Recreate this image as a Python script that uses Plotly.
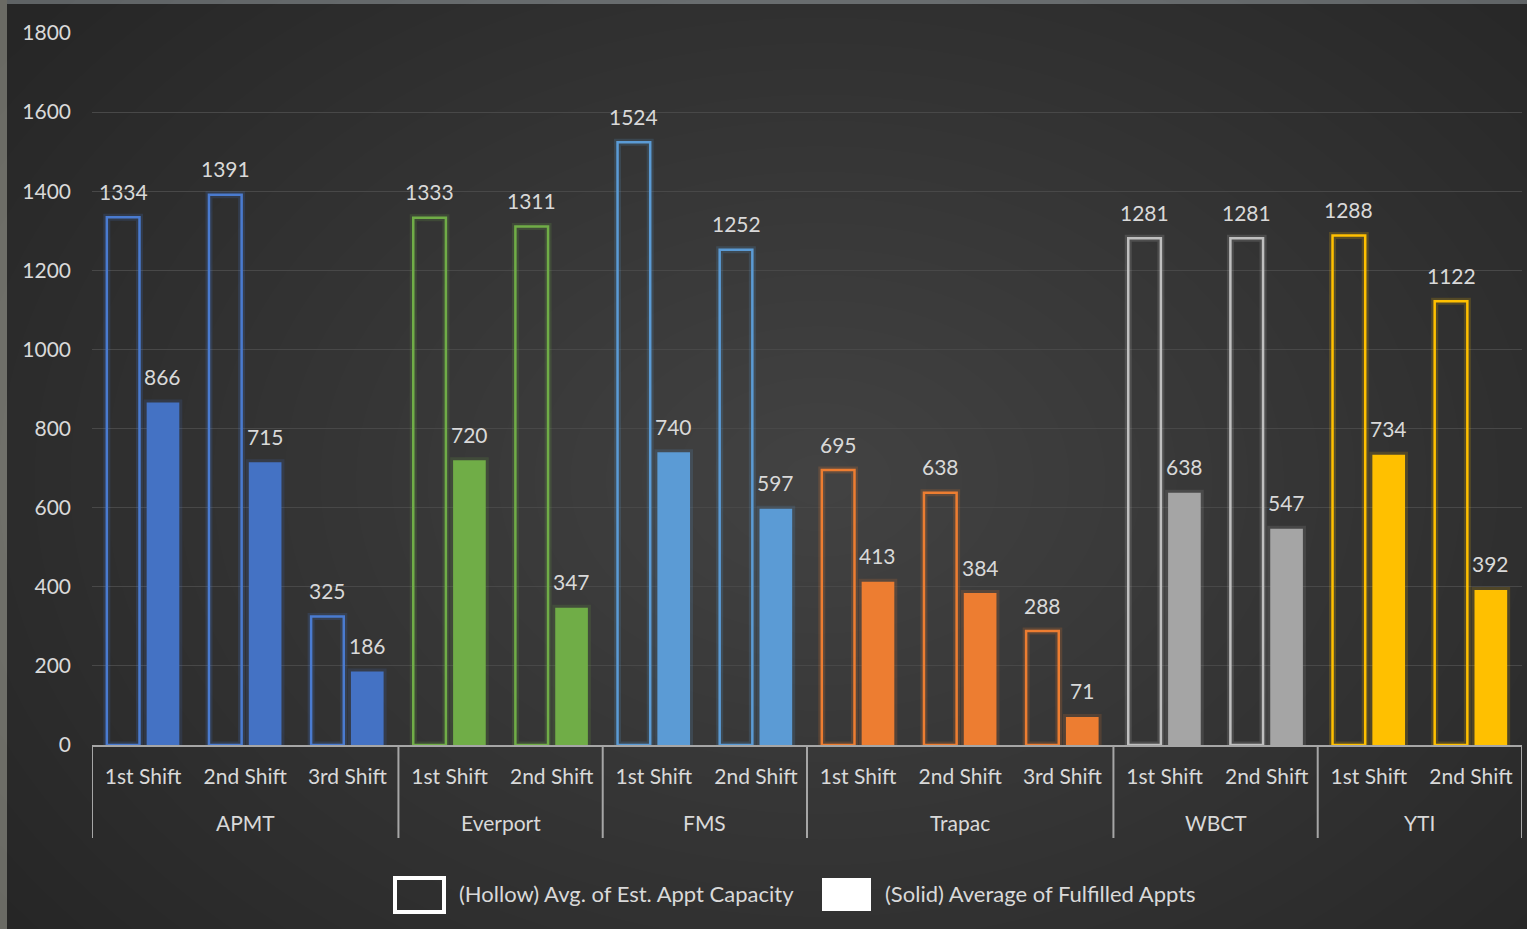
import plotly.graph_objects as go

# ---- data ----
terminals = ["APMT", "APMT", "APMT", "Everport", "Everport", "FMS", "FMS",
             "Trapac", "Trapac", "Trapac", "WBCT", "WBCT", "YTI", "YTI"]
shifts = ["1st Shift", "2nd Shift", "3rd Shift", "1st Shift", "2nd Shift",
          "1st Shift", "2nd Shift", "1st Shift", "2nd Shift", "3rd Shift",
          "1st Shift", "2nd Shift", "1st Shift", "2nd Shift"]
capacity = [1334, 1391, 325, 1333, 1311, 1524, 1252, 695, 638, 288, 1281, 1281, 1288, 1122]
fulfilled = [866, 715, 186, 720, 347, 740, 597, 413, 384, 71, 638, 547, 734, 392]
terminal_colors = {"APMT": "#4472C4", "Everport": "#70AD47", "FMS": "#5B9BD5",
                   "Trapac": "#ED7D31", "WBCT": "#A5A5A5", "YTI": "#FFC000"}
outline_colors = {"APMT": "#4A7BD0", "Everport": "#70AD47", "FMS": "#5B9BD5",
                  "Trapac": "#ED7D31", "WBCT": "#BFBFBF", "YTI": "#FFC000"}
legend_labels = ["(Hollow) Avg. of Est. Appt Capacity", "(Solid) Average of Fulfilled Appts"]

W, H = 1527, 929
L, R, T, B = 92, 5, 33, 184
PW, PH = W - L - R, H - T - B
BARGAP, GROUPGAP = 0.22, 0.18

def px(x):
    return (x - L) / PW

def py(y):
    return 1 - (y - T) / PH

def rgba(hexc, a):
    h = hexc.lstrip("#")
    return f"rgba({int(h[0:2],16)},{int(h[2:4],16)},{int(h[4:6],16)},{a})"

FONT = "Lato, 'Open Sans', sans-serif"
TXT = "#d9d9d9"

cats = [f"{t}|{s}" for t, s in zip(terminals, shifts)]

fig = go.Figure()
# soft glow behind bars
fig.add_trace(go.Bar(
    x=cats, y=capacity, offsetgroup="cap", hoverinfo="skip",
    marker=dict(color="rgba(0,0,0,0)",
                line=dict(color=[rgba(outline_colors[t], 0.18) for t in terminals], width=7)),
    showlegend=False,
))
fig.add_trace(go.Bar(
    x=cats, y=fulfilled, offsetgroup="ful", hoverinfo="skip",
    marker=dict(color="rgba(0,0,0,0)",
                line=dict(color=[rgba(terminal_colors[t], 0.16) for t in terminals], width=6)),
    showlegend=False,
))
fig.add_trace(go.Bar(
    x=cats, y=capacity, name=legend_labels[0], offsetgroup="cap",
    marker=dict(color="rgba(0,0,0,0)",
                line=dict(color=[outline_colors[t] for t in terminals], width=2.5)),
    showlegend=False,
))
fig.add_trace(go.Bar(
    x=cats, y=fulfilled, name=legend_labels[1], offsetgroup="ful",
    marker=dict(color=[terminal_colors[t] for t in terminals], line=dict(width=0)),
    showlegend=False,
))

shapes = []
# outer border and dark card
shapes.append(dict(type="rect", xref="paper", yref="paper", layer="below",
                   x0=px(0), x1=px(7), y0=py(H), y1=py(0),
                   fillcolor="#6a6a64", line=dict(width=0)))
shapes.append(dict(type="rect", xref="paper", yref="paper", layer="below",
                   x0=px(7), x1=px(W), y0=py(H), y1=py(4),
                   fillcolor="#262626", line=dict(width=0)))
# radial gradient by stacked ellipses
cx, cy = 820, 480
n = 28
for i in range(n):
    f = 1 - i / n
    rx, ry = 1000 * f, 720 * f
    shapes.append(dict(type="circle", xref="paper", yref="paper", layer="below",
                       x0=px(cx - rx), x1=px(cx + rx), y0=py(cy + ry), y1=py(cy - ry),
                       fillcolor="rgba(255,255,255,0.0068)", line=dict(width=0)))

annotations = []
# value labels above bars
slot = (1 - BARGAP) / 2
for i, (c, f) in enumerate(zip(capacity, fulfilled)):
    for xv, v in ((i - slot / 2, c), (i + slot / 2, f)):
        annotations.append(dict(xref="x", yref="y", x=xv, y=v, yshift=26,
                                xanchor="center", yanchor="middle", text=str(v),
                                showarrow=False, font=dict(color=TXT, size=21, family=FONT)))

# group dividers and group labels
groups = []
for i, t in enumerate(terminals):
    if not groups or groups[-1][0] != t:
        groups.append([t, i, i])
    else:
        groups[-1][2] = i
bounds = [g[1] - 0.5 for g in groups] + [groups[-1][2] + 0.5]
for b in bounds:
    shapes.append(dict(type="line", xref="x", yref="paper", x0=b, x1=b,
                       y0=py(745), y1=py(838), line=dict(color="#a6a6a6", width=2)))
for name, i0, i1 in groups:
    annotations.append(dict(xref="x", yref="paper", x=(i0 + i1) / 2, y=py(822),
                            xanchor="center", yanchor="middle", text=name, showarrow=False,
                            font=dict(color=TXT, size=21, family=FONT)))

# legend boxes
shapes.append(dict(type="rect", xref="paper", yref="paper",
                   x0=px(395), x1=px(444), y0=py(912), y1=py(878),
                   fillcolor="rgba(0,0,0,0)", line=dict(color="white", width=4)))
shapes.append(dict(type="rect", xref="paper", yref="paper",
                   x0=px(822), x1=px(871), y0=py(911), y1=py(878),
                   fillcolor="white", line=dict(width=0)))
annotations += [
    dict(xref="paper", yref="paper", x=px(457), y=py(893), xanchor="left", yanchor="middle",
         text=legend_labels[0], showarrow=False,
         font=dict(color=TXT, size=22, family=FONT)),
    dict(xref="paper", yref="paper", x=px(883), y=py(893), xanchor="left", yanchor="middle",
         text=legend_labels[1], showarrow=False,
         font=dict(color=TXT, size=22, family=FONT)),
]

fig.update_layout(
    width=W, height=H,
    margin=dict(l=L, r=R, t=T, b=B),
    paper_bgcolor="#5f6365", plot_bgcolor="rgba(0,0,0,0)",
    barmode="group", bargap=BARGAP, bargroupgap=GROUPGAP,
    shapes=shapes, annotations=annotations,
    font=dict(family=FONT, color=TXT, size=21),
    showlegend=False,
    xaxis=dict(type="category", showline=True, linecolor="#a6a6a6", linewidth=2,
               tickmode="array", tickvals=cats, ticktext=shifts,
               tickfont=dict(size=21, color=TXT, family=FONT), showgrid=False,
               ticks="", ticklabelstandoff=12, range=[-0.5, len(cats) - 0.5]),
    yaxis=dict(range=[0, 1800], dtick=200, showgrid=True, gridcolor="#484848", gridwidth=1,
               zeroline=False, showline=False, ticklabelstandoff=20,
               tickfont=dict(size=21, color=TXT, family=FONT)),
)

fig.write_html("out.html", config={"displayModeBar": False},
               post_script="document.body.style.margin='0';document.body.style.overflow='hidden';")
